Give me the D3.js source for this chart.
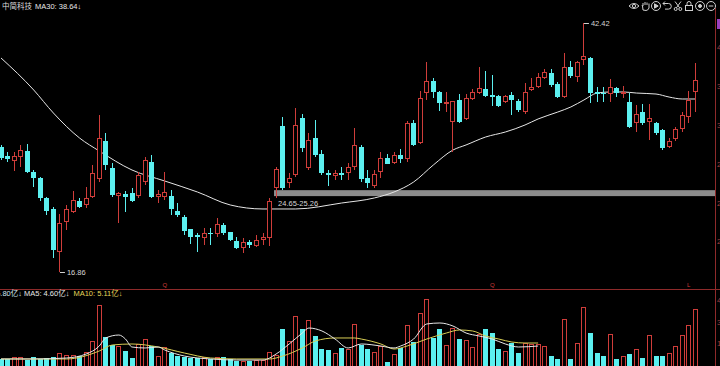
<!DOCTYPE html>
<html><head><meta charset="utf-8">
<script src="https://cdn.jsdelivr.net/npm/d3@7"></script>
<style>
html,body{margin:0;padding:0;background:#000;overflow:hidden}
svg{display:block}
text{font-family:"Liberation Sans","Noto Sans CJK SC",sans-serif}
</style></head><body>
<svg id="c" width="720" height="366"></svg>
<script>
// ---------- data ----------
const opens  = [29.69,28.77,28.25,28.66,29.28,27.12,26.51,24.46,23.33,18.91,
  21.99,23.02,24.15,23.74,24.56,26.41,30.31,27.54,24.66,24.87,
  24.97,24.66,26.10,28.15,24.56,24.56,24.66,23.12,22.51,21.27,
  20.66,20.35,20.86,20.76,21.68,20.97,20.04,19.32,19.94,19.53,
  20.14,20.35,25.48,31.85,26.00,26.82,32.67,27.54,30.61,28.97,
  27.02,26.71,27.02,27.02,27.64,29.69,26.51,25.69,27.12,28.56,
  28.05,28.87,28.46,32.15,30.10,35.23,36.47,35.34,34.21,32.26,
  34.52,32.57,34.62,35.23,35.64,35.03,34.93,34.31,35.03,34.41,
  33.28,35.54,35.85,36.77,37.29,36.16,34.82,37.90,36.88,38.62,
  38.83,35.34,35.23,35.13,35.75,35.13,34.31,32.15,33.28,32.26,
  32.15,31.44,29.69,30.51,31.54,32.77,35.34];
const highs  = [29.90,29.18,29.18,29.90,30.00,27.33,26.61,24.56,23.53,22.81,
  23.74,25.17,24.46,25.58,27.84,32.98,31.13,28.05,25.07,25.17,
  25.48,27.12,28.66,28.87,25.28,27.12,25.28,23.94,22.71,21.30,
  20.86,21.38,21.38,22.40,21.89,21.00,20.45,20.35,20.14,20.66,
  20.86,24.46,27.64,32.77,27.02,33.69,33.08,31.13,32.46,29.38,
  27.33,27.33,27.64,28.05,31.64,29.90,27.33,27.33,29.18,28.97,
  29.18,29.49,32.36,32.46,35.44,38.42,36.77,35.44,35.34,34.45,
  35.13,35.13,35.64,37.90,37.49,37.08,35.03,35.03,35.34,34.62,
  36.26,36.77,37.29,37.70,37.70,36.36,39.34,38.52,38.52,42.42,
  38.90,35.85,35.85,36.67,35.85,35.95,35.23,34.00,34.10,34.10,
  32.26,31.54,30.61,31.74,33.28,35.44,38.31];
const lows   = [28.36,28.15,27.23,27.64,27.05,25.58,24.15,22.71,18.30,16.86,
  21.17,22.92,23.43,23.43,24.46,26.10,27.33,24.56,21.89,23.02,
  24.05,24.46,25.79,24.46,23.94,24.25,22.71,22.51,20.66,19.73,
  18.91,19.63,19.63,20.45,20.66,20.04,19.22,18.81,19.32,19.43,
  19.63,19.53,24.46,25.28,25.48,26.61,29.18,27.33,28.66,26.82,
  25.69,26.30,26.30,26.30,27.33,26.10,25.48,25.48,26.51,27.90,
  27.95,28.05,28.15,29.79,30.00,34.52,34.72,33.39,33.28,29.18,
  32.15,32.46,34.52,35.13,34.82,33.90,33.80,34.21,32.98,33.28,
  33.08,35.44,35.75,36.70,35.85,34.72,34.72,36.77,36.36,38.11,
  34.21,34.31,34.31,34.31,34.82,34.72,31.65,31.23,31.95,30.41,
  30.92,29.38,29.59,30.31,31.23,32.15,33.28];
const closes = [28.56,28.46,28.77,29.38,27.12,26.51,24.46,23.12,19.12,21.89,
  23.33,24.25,23.53,24.46,27.02,30.61,27.84,24.76,24.97,24.56,
  24.15,26.82,28.36,24.56,24.87,25.07,23.33,22.71,21.07,20.45,
  20.45,20.86,20.76,21.79,20.86,20.14,19.32,19.94,19.63,20.14,
  20.45,24.15,27.43,25.48,26.51,31.95,29.59,30.41,28.87,27.02,
  26.82,27.02,26.82,27.64,29.90,26.41,26.00,26.92,28.56,27.95,
  28.87,28.46,32.15,29.90,34.72,36.47,35.34,34.21,34.31,34.41,
  32.26,34.72,35.34,35.75,34.93,34.82,33.90,34.93,34.52,33.49,
  35.34,35.85,36.88,37.39,36.05,34.82,37.90,36.98,38.42,39.03,
  35.23,35.13,35.13,35.85,35.23,35.34,31.74,33.08,32.15,32.67,
  31.13,29.59,30.31,31.54,32.98,34.52,36.57];
// volume, 亿
const volumes = [1.29,1.29,1.57,1.57,1.14,1.57,1.29,1.43,1.57,2.14,
  1.86,1.86,1.71,2.29,3.86,9.0,4.43,3.29,3.14,2.43,
  1.43,3.43,4.14,3.14,1.71,3.0,2.14,1.71,1.57,1.43,
  1.43,1.57,1.29,1.57,1.57,1.29,1.0,1.0,1.0,1.14,
  1.14,2.29,1.86,5.57,3.86,7.43,5.57,6.86,4.57,2.71,
  2.57,2.14,2.86,2.71,6.29,3.29,2.71,2.29,3.14,0.86,
  2.0,2.86,6.14,3.71,7.86,9.86,4.29,5.57,3.29,5.71,
  4.14,4.0,3.0,4.86,5.57,5.0,2.71,2.43,3.57,2.14,
  3.57,3.43,3.43,3.14,1.71,1.29,7.0,1.29,3.57,8.71,
  5.0,2.14,1.71,4.86,1.29,1.71,2.0,2.71,1.43,4.71,
  1.71,1.71,2.14,3.14,4.71,6.14,8.43];
// MA30 read at sample candles
const ma30Index  = [0,5,8,12,15,20,25,30,35,40,45,52,57,60,63,66,69,71,74,77,80,82,85,87,89,91,93,95,97,100,102,104,106];
const ma30Values = [38.83,35.54,33.18,30.61,29.28,27.33,26.20,25.07,23.74,23.33,23.33,23.94,24.46,25.07,26.10,27.84,29.38,29.90,30.72,31.23,31.95,32.57,33.28,33.80,34.52,35.23,35.34,35.34,35.23,35.13,34.82,34.62,34.62];
const volMa5Index  = [0,5,10,13,15,16,18,19,20,22,24,25,28,32,36,40,42,44,46,47,49,51,53,55,58,60,61,63,65,67,69,71,73,75,77,79,82];
const volMa5Values = [1.29,1.29,1.43,2.0,3.14,4.29,4.71,4.14,3.0,2.86,3.0,2.57,1.71,1.29,1.14,1.14,2.0,3.43,5.0,5.71,5.29,4.14,2.86,3.43,3.14,2.86,3.14,4.14,6.29,6.43,6.0,5.0,4.57,4.14,3.43,3.0,3.14];
const volMa10Index  = [0,10,15,17,20,24,28,32,36,41,43,46,48,51,54,55,58,60,62,65,68,70,72,74,76,78,80,82];
const volMa10Values = [1.29,1.29,2.43,3.29,3.43,3.0,2.14,1.43,1.29,1.29,1.71,2.86,3.86,4.29,4.29,4.14,3.43,2.71,3.14,4.14,5.0,5.43,5.29,4.57,4.14,3.71,3.57,3.57];
const priceTicks = [20,24,28,32,36,40];
const volTicks = [3.6,6.6,9.7];
const volTickLabels = ["15.4","30.9","46.3"];
const zoneLow = 24.65, zoneHigh = 25.26, zoneStart = 42;
const lowIndex = 9, highIndex = 89;
const markers = [{i:25,t:"Q"},{i:75,t:"Q"},{i:105,t:"L"}];
const titleText = "中简科技";
const titleMA = "MA30: 38.64↓";
const volLegend = [{t:"VOL: 5.80亿↓",c:"#cfe6f2"},{t:"MA5: 4.60亿↓",c:"#e8e8e8"},{t:"MA10: 5.11亿↓",c:"#e6d65a"}];

// ---------- drawing ----------
const RED = "#cf3d3a", CYAN = "#5cf0f0", LINE_RED = "#8e2a2a";
const svg = d3.select("#c");
svg.append("rect").attr("width",720).attr("height",366).attr("fill","#000");
const n = opens.length;
const xb = d3.scaleBand().domain(d3.range(n)).range([-2.275, 698.575]);
const cx = i => xb(i) + xb.bandwidth()/2;
const y = d3.scaleLinear().domain([16.86, 42.42]).range([272, 23]);
const yv = d3.scaleLinear().domain([0, 10]).range([368, 298]);

// zone band
svg.append("rect")
  .attr("x", Math.round(cx(zoneStart) - 2.5)).attr("y", y(zoneHigh))
  .attr("width", 716 - Math.round(cx(zoneStart) - 2.5)).attr("height", y(zoneLow) - y(zoneHigh))
  .attr("fill", "#8c8c8c");
svg.append("text").attr("x", cx(zoneStart)+2).attr("y", y(zoneLow)+10)
  .attr("font-size", 7.5).attr("fill", "#d6d6d6").text(zoneLow.toFixed(2)+"-"+zoneHigh.toFixed(2));

// MA30
svg.append("path").datum(ma30Index.map((d,k)=>[cx(d), y(ma30Values[k])]))
  .attr("d", d3.line().curve(d3.curveMonotoneX))
  .attr("fill","none").attr("stroke","#e6e6e6").attr("stroke-width",1);

// candles
const cg = svg.append("g").attr("shape-rendering","crispEdges");
d3.range(n).forEach(i => {
  const o=opens[i], c=closes[i], h=highs[i], l=lows[i];
  const up = c >= o;
  const col = up ? RED : CYAN;
  const x0 = Math.round(cx(i) - 2.5);
  const wx = x0 + 2.5;
  const top = Math.round(y(Math.max(o,c))), bot = Math.round(y(Math.min(o,c)));
  const yh = Math.round(y(h)), yl = Math.round(y(l));
  if (up) {
    cg.append("line").attr("x1",wx).attr("x2",wx).attr("y1",yh).attr("y2",top).attr("stroke",col);
    cg.append("line").attr("x1",wx).attr("x2",wx).attr("y1",bot).attr("y2",yl).attr("stroke",col);
    cg.append("rect").attr("x",x0+0.5).attr("y",top+0.5).attr("width",4).attr("height",Math.max(1,bot-top-1))
      .attr("fill","#000").attr("stroke",col);
  } else {
    cg.append("line").attr("x1",wx).attr("x2",wx).attr("y1",yh).attr("y2",yl).attr("stroke",col);
    cg.append("rect").attr("x",x0).attr("y",top).attr("width",5).attr("height",Math.max(1,bot-top)).attr("fill",col);
  }
});

// extreme labels
[[lowIndex, lows[lowIndex]],[highIndex, highs[highIndex]]].forEach(([i,v])=>{
  const yy = Math.round(y(v)) + 0.5;
  svg.append("line").attr("x1",cx(i)).attr("x2",cx(i)+5).attr("y1",yy).attr("y2",yy).attr("stroke","#cfcfcf");
  svg.append("text").attr("x",cx(i)+7).attr("y",yy+2.6).attr("font-size",7.5).attr("fill","#d6d6d6").text(v.toFixed(2));
});

// separators
svg.append("line").attr("x1",0).attr("x2",720).attr("y1",289.5).attr("y2",289.5).attr("stroke",LINE_RED);
svg.append("line").attr("x1",715.5).attr("x2",715.5).attr("y1",8).attr("y2",366).attr("stroke",LINE_RED);
markers.forEach(m=>{
  svg.append("text").attr("x",cx(m.i)).attr("y",287).attr("text-anchor","middle")
    .attr("font-size",6).attr("fill",RED).text(m.t);
});

// volume bars
const vg = svg.append("g").attr("shape-rendering","crispEdges");
d3.range(n).forEach(i => {
  const up = closes[i] >= opens[i];
  const x0 = Math.round(cx(i) - 2.5);
  const t = Math.round(yv(volumes[i]));
  if (up) vg.append("rect").attr("x",x0+0.5).attr("y",t+0.5).attr("width",4).attr("height",370-t)
      .attr("fill","none").attr("stroke",RED);
  else vg.append("rect").attr("x",x0).attr("y",t).attr("width",5).attr("height",370-t).attr("fill",CYAN);
});
svg.append("path").datum(volMa10Index.map((d,k)=>[cx(d), yv(volMa10Values[k])]))
  .attr("d", d3.line().curve(d3.curveMonotoneX)).attr("fill","none").attr("stroke","#d9cf55").attr("stroke-width",1);
svg.append("path").datum(volMa5Index.map((d,k)=>[cx(d), yv(volMa5Values[k])]))
  .attr("d", d3.line().curve(d3.curveMonotoneX)).attr("fill","none").attr("stroke","#e8e8e8").attr("stroke-width",1);

// right axes (mostly clipped by the window edge)
const pa = svg.append("g").attr("transform","translate(716,0)")
  .call(d3.axisRight(y).tickValues(priceTicks).tickSize(0).tickPadding(1).tickFormat(d3.format(".2f")));
const va = svg.append("g").attr("transform","translate(716,0)")
  .call(d3.axisRight(yv).tickValues(volTicks).tickSize(0).tickPadding(1).tickFormat((d,k)=>volTickLabels[k]));
[pa,va].forEach(a=>{ a.select(".domain").remove(); a.selectAll("text").attr("fill","#a04040").attr("font-size",8); });
svg.append("rect").attr("x",717).attr("y",y(highs[highIndex])-4).attr("width",4).attr("height",10).attr("fill","#9b3fc0");

// title
const tt = svg.append("text").attr("x",2).attr("y",9).attr("font-size",7.5).attr("fill","#dcdcdc");
tt.append("tspan").attr("font-family","Noto Sans CJK SC").text(titleText);
tt.append("tspan").attr("dx",3).attr("fill","#e8e8e8").text(titleMA);

// volume legend (left part clipped)
const vl = svg.append("text").attr("x",22).attr("y",296).attr("font-size",7.5).attr("text-anchor","end")
  .attr("fill",volLegend[0].c).text(volLegend[0].t);
const v2 = svg.append("text").attr("x",24).attr("y",296).attr("font-size",7.5);
v2.append("tspan").attr("fill",volLegend[1].c).text(volLegend[1].t);
v2.append("tspan").attr("dx",4).attr("fill",volLegend[2].c).text(volLegend[2].t);

// toolbar icons
const ic = svg.append("g").attr("fill","none").attr("stroke","#cfcfcf").attr("stroke-width",1);
const icon = (x) => ic.append("g").attr("transform",`translate(${x},6)`);
let g;
g = icon(634); g.append("path").attr("d","M-5,0 Q0,-5 5,0 Q0,5 -5,0Z"); g.append("circle").attr("r",1.6);
g = icon(646); g.append("path").attr("d","M-3,4 L-3.5,0 L-4,-1 M-3,0 L-3,-3 M-1,-1 L-1,-4 M1,-1 L1,-3.5 M3,0 L3,-2.5 M3,0 L3,2 Q2,4.5 0,4.5 L-3,4");
g = icon(656); g.append("circle").attr("r",4.5); g.append("path").attr("d","M-1.5,-2.2 L2.2,0 L-1.5,2.2Z").attr("fill","#cfcfcf");
g = icon(667); g.append("path").attr("d","M-4,-2.5 L1.5,-2.5 A2.8,2.8 0 0 1 1.5,3.1 L-2,3.1 M-2,-4.5 L-4,-2.5 L-2,-0.5");
g = icon(678); g.append("circle").attr("cx",-2.3).attr("cy",3).attr("r",1.5); g.append("circle").attr("cx",2.3).attr("cy",3).attr("r",1.5);
  g.append("path").attr("d","M-1.6,1.8 L3,-4.5 M1.6,1.8 L-3,-4.5");
g = icon(689); g.append("rect").attr("x",-3.5).attr("y",-0.5).attr("width",7).attr("height",5);
  g.append("path").attr("d","M-2,-0.5 L-2,-2.5 A2,2 0 0 1 2,-2.5 L2,-0.5");
g = icon(700); g.append("circle").attr("r",4.5); g.append("circle").attr("r",1.5).attr("fill","#cfcfcf");
g = icon(711); g.append("circle").attr("r",4.5); g.append("path").attr("d","M-2.3,0 L2.3,0");
</script></body></html>
